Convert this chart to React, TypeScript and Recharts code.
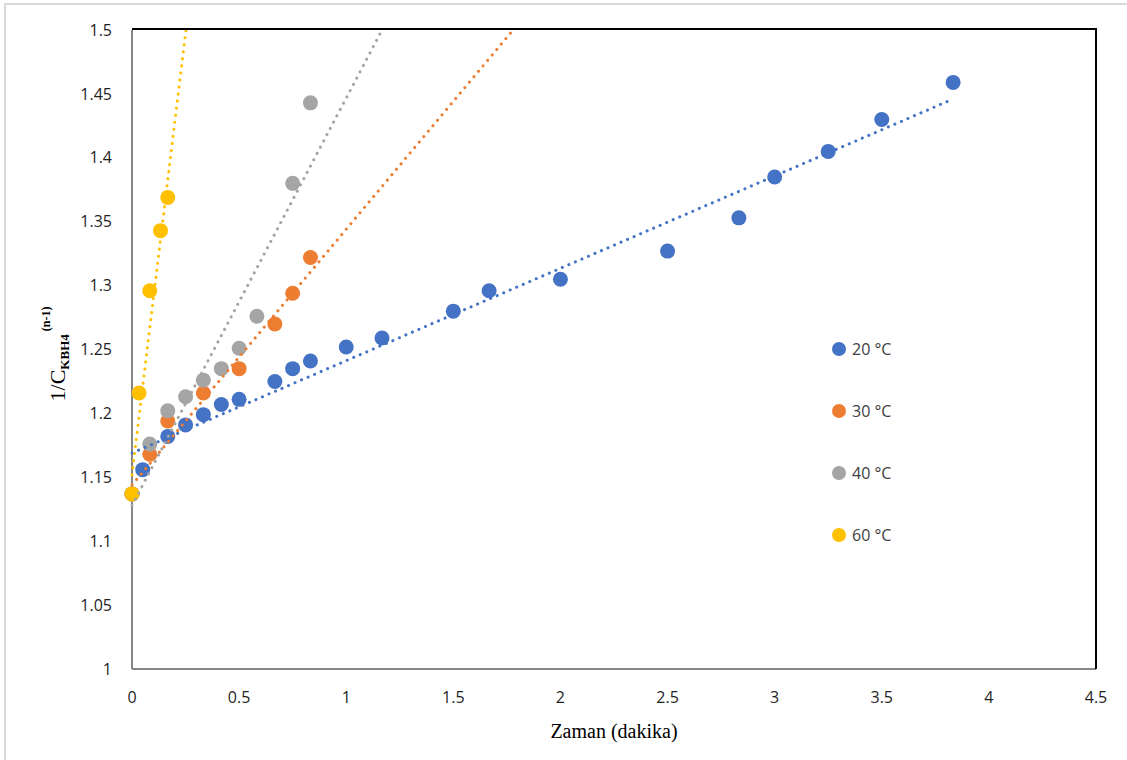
import React from "react";
import { ScatterChart, Scatter, XAxis, YAxis } from "recharts";

const x20 = [0, 0.05, 0.167, 0.25, 0.333, 0.417, 0.5, 0.667, 0.75, 0.833, 1, 1.167, 1.5, 1.667, 2, 2.5, 2.833, 3, 3.25, 3.5, 3.833];
const y20 = [1.137, 1.156, 1.182, 1.191, 1.199, 1.207, 1.211, 1.225, 1.235, 1.241, 1.252, 1.259, 1.28, 1.296, 1.305, 1.327, 1.353, 1.385, 1.405, 1.43, 1.459];

const x30 = [0, 0.083, 0.167, 0.333, 0.5, 0.667, 0.75, 0.833];
const y30 = [1.137, 1.168, 1.194, 1.216, 1.235, 1.27, 1.294, 1.322];

const x40 = [0, 0.083, 0.167, 0.25, 0.333, 0.417, 0.5, 0.583, 0.75, 0.833];
const y40 = [1.137, 1.176, 1.202, 1.213, 1.226, 1.235, 1.251, 1.276, 1.38, 1.443];

const x60 = [0, 0.033, 0.083, 0.133, 0.167];
const y60 = [1.137, 1.216, 1.296, 1.343, 1.369];

// linear trendline ends (start, end)
const trend20 = { x: [0, 3.833], y: [1.169, 1.446] };
const trend30 = { x: [0, 1.779], y: [1.144, 1.5] };
const trend40 = { x: [0, 1.167], y: [1.128, 1.5] };
const trend60 = { x: [0, 0.252], y: [1.152, 1.5] };

const seriesNames = ["20 °C", "30 °C", "40 °C", "60 °C"];
const colors = ["#4472C4", "#ED7D31", "#A5A5A5", "#FFC000"];

const xTicks = [0, 0.5, 1, 1.5, 2, 2.5, 3, 3.5, 4, 4.5];
const yTicks = [1, 1.05, 1.1, 1.15, 1.2, 1.25, 1.3, 1.35, 1.4, 1.45, 1.5];

const zip = (xs: number[], ys: number[]) => xs.map((x, i) => ({ x, y: ys[i] }));

const points = [zip(x20, y20), zip(x30, y30), zip(x40, y40), zip(x60, y60)];
const trends = [trend20, trend30, trend40, trend60].map(t => zip(t.x, t.y));

const serif = "'Liberation Serif', 'Times New Roman', serif";
const tickStyle = { fontSize: 16, fill: "#1f1f1f", fontFamily: "'Open Sans', sans-serif" };

const dot = (color: string) => (props: any) =>
  <circle cx={props.cx} cy={props.cy} r={7.5} fill={color} />;

const YTitle = () => (
  <text transform="rotate(-90, 65, 354)" x={65} y={354} textAnchor="middle" fontFamily={serif} fill="#000">
    <tspan fontSize={22}>1/C</tspan>
    <tspan fontSize={13} fontWeight="bold" dy={4}>KBH4</tspan>
    <tspan fontSize={12} fontWeight="bold" dy={-19} dx={3}>(n-1)</tspan>
  </text>
);

const XTitle = () => (
  <text x={614} y={738} textAnchor="middle" fontFamily={serif} fontSize={20} fill="#000">
    Zaman (dakika)
  </text>
);

const LegendBox = () => (
  <div style={{ position: "absolute", left: 832, top: 318, fontFamily: "'Open Sans', sans-serif", fontSize: 16, color: "#404040" }}>
    {seriesNames.map((name, i) => (
      <div key={name} style={{ display: "flex", alignItems: "center", height: 62 }}>
        <span style={{ width: 14, height: 14, borderRadius: 7, background: colors[i], marginRight: 6 }} />
        {name}
      </div>
    ))}
  </div>
);

export default function App() {
  return (
    <div style={{ position: "absolute", left: 0, top: 0, width: 1127, height: 760, background: "#fff", overflow: "hidden" }}>
      <div style={{ position: "absolute", left: 4, top: 3, width: 1200, height: 800, borderLeft: "2px solid #d9d9d9", borderTop: "2px solid #d9d9d9" }} />
      <ScatterChart width={1127} height={760} margin={{ top: 30, right: 31, bottom: 41, left: 62 }}>
        <XAxis type="number" dataKey="x" domain={[0, 4.5]} ticks={xTicks} interval={0}
          height={50} tickSize={0} tickMargin={23} tick={tickStyle}
          axisLine={{ stroke: "#868686", strokeWidth: 2 }}
          label={{ content: () => <XTitle /> }} />
        <YAxis type="number" dataKey="y" domain={[1, 1.5]} ticks={yTicks} interval={0}
          width={70} tickSize={0} tickMargin={20} tick={tickStyle} allowDataOverflow
          axisLine={{ stroke: "#868686", strokeWidth: 2 }}
          label={{ content: () => <YTitle /> }} />
        {points.map((d, i) => (
          <Scatter key={"p" + i} name={seriesNames[i]} data={d} fill={colors[i]}
            shape={dot(colors[i])} isAnimationActive={false} />
        ))}
        {trends.map((d, i) => (
          <Scatter key={"t" + i} data={d} legendType="none" isAnimationActive={false}
            line={{ stroke: colors[i], strokeWidth: 3, strokeDasharray: "0.1 7", strokeLinecap: "round" }}
            shape={() => <g />} />
        ))}
      </ScatterChart>
      <LegendBox />
      <div style={{ position: "absolute", left: 132, top: 28, width: 965, height: 641,
        borderTop: "2.5px solid #000", borderRight: "2.5px solid #000", boxSizing: "border-box", pointerEvents: "none" }} />
    </div>
  );
}
